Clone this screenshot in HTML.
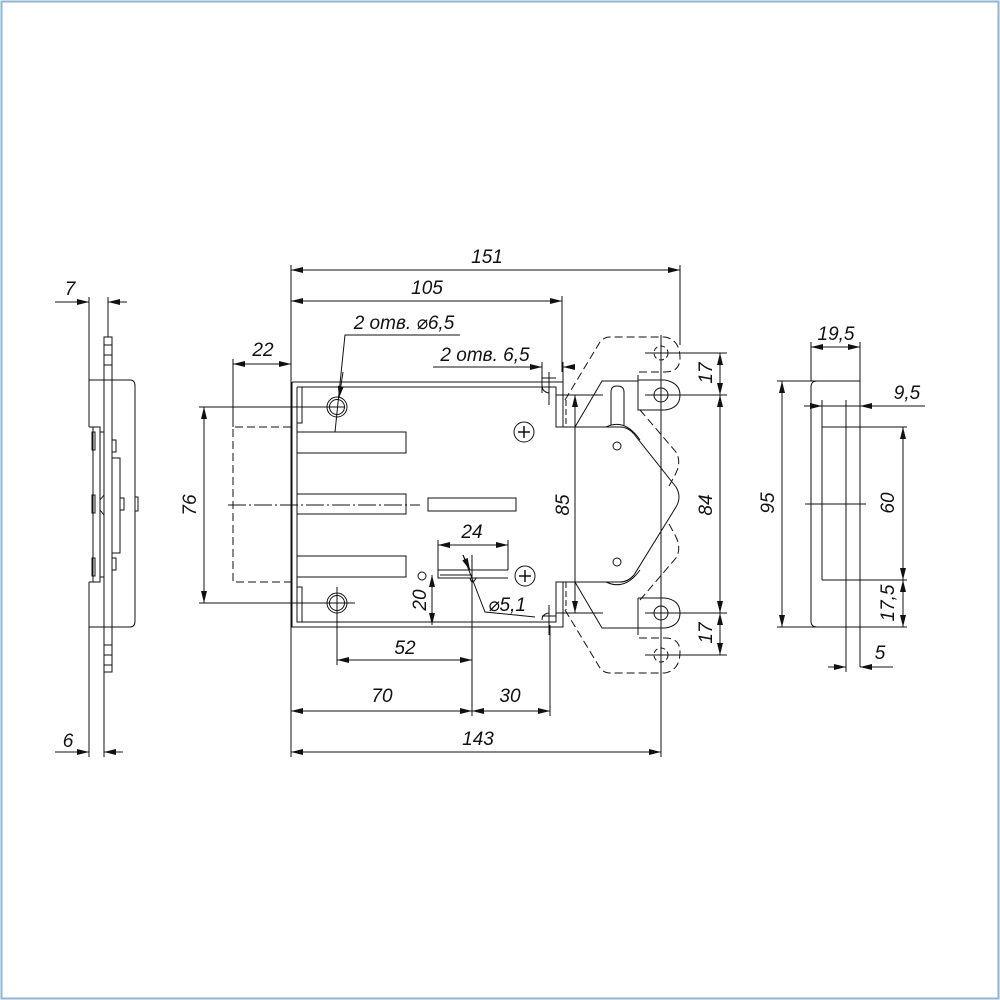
<!DOCTYPE html>
<html><head><meta charset="utf-8"><style>
html,body{margin:0;padding:0;background:#fff}
svg{display:block}
text{font-family:"Liberation Sans","DejaVu Sans",sans-serif;font-style:italic;font-size:19px;fill:#111}
</style></head><body>
<svg width="1000" height="1000" viewBox="0 0 1000 1000" xmlns="http://www.w3.org/2000/svg">
<defs>
<marker id="a" viewBox="0 0 12 6" refX="12" refY="3" markerWidth="12" markerHeight="6" orient="auto-start-reverse" markerUnits="userSpaceOnUse"><path d="M0,0 L12,3 L0,6z" fill="#111"/></marker>
</defs>
<rect x="1.5" y="1.5" width="997" height="997" fill="none" stroke="#8fb4d9" stroke-width="2"/>
<g stroke="#111" stroke-width="1" fill="none">
<line x1="291" y1="265" x2="291" y2="757"/>
<line x1="680" y1="265" x2="680" y2="345"/>
<line x1="562" y1="296" x2="562" y2="372"/>
<line x1="291" y1="270" x2="680" y2="270" marker-start="url(#a)" marker-end="url(#a)"/>
<line x1="291" y1="301" x2="562" y2="301" marker-start="url(#a)" marker-end="url(#a)"/>
<line x1="233" y1="359" x2="233" y2="427"/>
<line x1="233" y1="364" x2="291" y2="364" marker-start="url(#a)" marker-end="url(#a)"/>
<line x1="199" y1="407" x2="345" y2="407"/>
<line x1="199" y1="603" x2="345" y2="603"/>
<line x1="204" y1="407" x2="204" y2="603" marker-start="url(#a)" marker-end="url(#a)"/>
<path d="M291,427 H233 V582 H291" stroke-dasharray="8,4"/>
<line x1="228" y1="505" x2="420" y2="505" stroke-dasharray="18,3,2,3"/>
<path d="M292,382 H563 V427 M292,382 V627 H563 V582"/>
<path d="M297,387 H556 V427 H575 M297,387 V423 H302 V387 M297,423 V587 M297,587 H302 V622 M297,587 V622 H556 V582 H575"/>
<line x1="566" y1="400" x2="566" y2="427" stroke-dasharray="6,3"/>
<line x1="566" y1="582" x2="566" y2="610" stroke-dasharray="6,3"/>
<rect x="297" y="432" width="109" height="21"/>
<rect x="297" y="494" width="109" height="20"/>
<rect x="297" y="556" width="109" height="21"/>
<rect x="428" y="498" width="88" height="13"/>
<circle cx="337" cy="407" r="10"/><circle cx="337" cy="407" r="7.5"/>
<circle cx="337" cy="603" r="10"/><circle cx="337" cy="603" r="7.5"/>
<line x1="337" y1="587" x2="337" y2="665"/>
<line x1="320" y1="603" x2="355" y2="603"/>
<circle cx="524" cy="432" r="10"/><path d="M524,426 V438 M518,432 H530" stroke-width="1.5"/>
<circle cx="525" cy="576" r="10"/><path d="M525,570 V582 M519,576 H531" stroke-width="1.5"/>
<circle cx="422" cy="576" r="4"/>
<path d="M438,570 H508 M438,570 V578 H508 M470,578 Q472,586 476,578"/>
<line x1="438" y1="540" x2="438" y2="570"/>
<line x1="508" y1="540" x2="508" y2="570"/>
<line x1="438" y1="545" x2="508" y2="545" marker-start="url(#a)" marker-end="url(#a)"/>
<line x1="440" y1="575" x2="472" y2="575"/>
<line x1="432" y1="575" x2="432" y2="625" marker-start="url(#a)" marker-end="url(#a)"/>
<path d="M463,555 L485,612 L535,617"/>
<line x1="463" y1="555" x2="470" y2="570" marker-end="url(#a)"/>
<path d="M460,335 H345 L335,432"/>
<line x1="343" y1="372" x2="339" y2="398" marker-end="url(#a)"/>
<line x1="433" y1="367" x2="542" y2="367" marker-end="url(#a)"/>
<line x1="563" y1="367" x2="575" y2="367" marker-start="url(#a)"/>
<line x1="542" y1="362" x2="542" y2="393"/>
<line x1="563" y1="362" x2="563" y2="382"/>
<path d="M542,378 H556 M549,372 V405 M542,385 Q542,392 549,393"/>
<path d="M542,616 H556 M549,605 V635 M542,620 Q542,614 549,613"/>
<line x1="556" y1="395" x2="603" y2="395"/>
<line x1="556" y1="613" x2="603" y2="613"/>
<line x1="575" y1="395" x2="575" y2="613" marker-start="url(#a)" marker-end="url(#a)"/>
<line x1="472" y1="555" x2="472" y2="716"/>
<line x1="550" y1="625" x2="550" y2="716"/>
<line x1="337" y1="660" x2="472" y2="660" marker-start="url(#a)" marker-end="url(#a)"/>
<line x1="291" y1="711" x2="472" y2="711" marker-start="url(#a)" marker-end="url(#a)"/>
<line x1="472" y1="711" x2="550" y2="711" marker-start="url(#a)" marker-end="url(#a)"/>
<line x1="291" y1="752" x2="661" y2="752" marker-start="url(#a)" marker-end="url(#a)"/>
<line x1="661" y1="335" x2="661" y2="757"/>
<path d="M565,400 L600,342 Q604,337 610,337 H665 Q680,340 680,358 Q680,372 665,372 H638 V380" stroke-dasharray="8,4"/>
<path d="M565,610 L600,668 Q604,673 610,673 H665 Q680,670 680,652 Q680,638 665,638 H638 V628" stroke-dasharray="8,4"/>
<path d="M640,410 L676,452 Q682,462 675,475 L668,488" stroke-dasharray="8,4"/>
<path d="M640,600 L676,558 Q682,548 675,535 L668,522" stroke-dasharray="8,4"/>
<path d="M638,380 H665 Q680,383 680,395 Q680,408 665,410 H638 V380"/>
<path d="M638,598 H665 Q680,600 680,613 Q680,626 665,628 H638 V598"/>
<circle cx="661" cy="395" r="7"/><circle cx="661" cy="613" r="7"/>
<circle cx="661" cy="353" r="7" stroke-dasharray="5,3"/><circle cx="661" cy="655" r="7" stroke-dasharray="5,3"/>
<line x1="645" y1="353" x2="727" y2="353"/>
<line x1="645" y1="395" x2="727" y2="395"/>
<line x1="645" y1="613" x2="727" y2="613"/>
<line x1="645" y1="655" x2="727" y2="655"/>
<path d="M575,427 L602,381 H638"/>
<path d="M575,582 L602,628 H638"/>
<path d="M611,425 V392 Q611,386 617,386 Q624,386 624,392 V425"/>
<path d="M575,427 H620 Q628,427 634,434 L676,487 Q682,497 676,507 L634,575 Q628,582 620,582 H575 Z"/>
<path d="M606,427 Q625,418 640,440 M606,582 Q625,591 640,570"/>
<circle cx="617" cy="446" r="4"/><circle cx="617" cy="562" r="4"/>
<line x1="720" y1="353" x2="720" y2="395" marker-start="url(#a)" marker-end="url(#a)"/>
<line x1="720" y1="395" x2="720" y2="613" marker-start="url(#a)" marker-end="url(#a)"/>
<line x1="720" y1="613" x2="720" y2="655" marker-start="url(#a)" marker-end="url(#a)"/>
<path d="M860,381 H817 Q811,381 811,387 V621 Q811,627 817,627 H860"/>
<line x1="777" y1="381" x2="817" y2="381"/>
<line x1="777" y1="627" x2="817" y2="627"/>
<line x1="811" y1="342" x2="811" y2="381"/>
<line x1="860" y1="342" x2="860" y2="667"/>
<line x1="822" y1="400" x2="822" y2="580"/>
<line x1="846" y1="400" x2="846" y2="672"/>
<path d="M822,427 H907 M822,580 H907"/>
<line x1="860" y1="627" x2="907" y2="627"/>
<line x1="805" y1="504" x2="866" y2="504"/>
<line x1="782" y1="381" x2="782" y2="627" marker-start="url(#a)" marker-end="url(#a)"/>
<line x1="811" y1="347" x2="860" y2="347" marker-start="url(#a)" marker-end="url(#a)"/>
<line x1="804" y1="406" x2="822" y2="406" marker-end="url(#a)"/>
<line x1="860" y1="406" x2="925" y2="406" marker-start="url(#a)"/>
<line x1="822" y1="406" x2="860" y2="406"/>
<line x1="903" y1="427" x2="903" y2="580" marker-start="url(#a)" marker-end="url(#a)"/>
<line x1="903" y1="580" x2="903" y2="627" marker-start="url(#a)" marker-end="url(#a)"/>
<line x1="828" y1="667" x2="846" y2="667" marker-end="url(#a)"/>
<line x1="860" y1="667" x2="893" y2="667" marker-start="url(#a)"/>
<line x1="89" y1="297" x2="89" y2="427"/>
<line x1="89" y1="582" x2="89" y2="757"/>
<line x1="108" y1="297" x2="108" y2="337"/>
<line x1="104" y1="672" x2="104" y2="757"/>
<line x1="55" y1="302" x2="89" y2="302" marker-end="url(#a)"/>
<line x1="108" y1="302" x2="127" y2="302" marker-start="url(#a)"/>
<line x1="55" y1="752" x2="89" y2="752" marker-end="url(#a)"/>
<line x1="104" y1="752" x2="123" y2="752" marker-start="url(#a)"/>
<path d="M89,380 H130 Q135,380 135,386 V621 Q135,627 130,627 H89"/>
<path d="M104,337 H112 V672 H104 Z"/>
<path d="M104,345 H112 M104,355 H112 M104,365 H112 M104,645 H112 M104,655 H112 M104,665 H112"/>
<path d="M89,427 H100 V582 H89"/>
<rect x="93" y="427" width="7" height="155"/>
<rect x="100" y="432" width="4" height="145"/>
<rect x="112" y="458" width="8" height="95"/>
<rect x="112" y="440" width="4" height="12"/><rect x="112" y="558" width="4" height="12"/>
<rect x="92" y="432" width="3" height="18"/><rect x="92" y="558" width="3" height="18"/>
<rect x="92" y="495" width="3" height="18"/><rect x="120" y="498" width="4" height="12"/>
<rect x="135" y="497" width="3" height="14"/>
<path d="M100,500 L104,495 V515 L100,510"/>
</g>
<text x="487" y="263" text-anchor="middle">151</text>
<text x="427" y="294" text-anchor="middle">105</text>
<text x="404" y="329" text-anchor="middle">2 отв. ⌀6,5</text>
<text x="485" y="361" text-anchor="middle">2 отв. 6,5</text>
<text x="263" y="356" text-anchor="middle">22</text>
<text x="472" y="538" text-anchor="middle">24</text>
<text x="507" y="611" text-anchor="middle">⌀5,1</text>
<text x="405" y="654" text-anchor="middle">52</text>
<text x="382" y="702" text-anchor="middle">70</text>
<text x="510" y="702" text-anchor="middle">30</text>
<text x="478" y="745" text-anchor="middle">143</text>
<text x="70" y="295" text-anchor="middle">7</text>
<text x="68" y="747" text-anchor="middle">6</text>
<text x="836" y="340" text-anchor="middle">19,5</text>
<text x="907" y="399" text-anchor="middle">9,5</text>
<text x="880" y="659" text-anchor="middle">5</text>
<text transform="translate(196,505) rotate(-90)" text-anchor="middle">76</text>
<text transform="translate(426,600) rotate(-90)" text-anchor="middle">20</text>
<text transform="translate(569,505) rotate(-90)" text-anchor="middle">85</text>
<text transform="translate(712,373) rotate(-90)" text-anchor="middle">17</text>
<text transform="translate(712,505) rotate(-90)" text-anchor="middle">84</text>
<text transform="translate(712,633) rotate(-90)" text-anchor="middle">17</text>
<text transform="translate(774,503) rotate(-90)" text-anchor="middle">95</text>
<text transform="translate(894,503) rotate(-90)" text-anchor="middle">60</text>
<text transform="translate(894,603) rotate(-90)" text-anchor="middle">17,5</text>
</svg>
</body></html>
